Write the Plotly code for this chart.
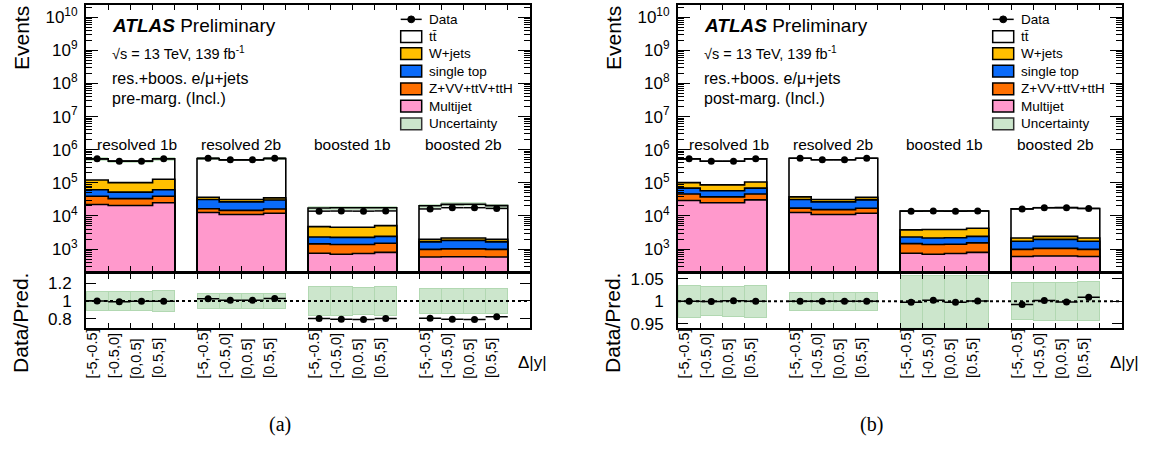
import plotly.graph_objects as go

FIG_W, FIG_H = 1153, 450

# ---------------- data ----------------
region_names = ["resolved 1b", "resolved 2b", "boosted 1b", "boosted 2b"]
bin_labels = ["[-5,-0.5]", "[-0.5,0]", "[0,0.5]", "[0.5,5]"]
region_label_pos = [2.3, 7.0, 12.0, 17.0]

data_events = [530000, 450000, 450000, 530000,
               553000, 497000, 497000, 553000,
               14000, 14100, 14000, 14200,
               16300, 17800, 17800, 16900]

# (a) pre-marginalisation
pre_ttbar = [408000, 352000, 350000, 404000, 502000, 462000, 462000, 502000,
             12700, 13200, 13150, 12650, 18300, 20300, 20400, 18600]
pre_wjets = [60000, 48900, 48900, 66000, 5300, 4600, 4600, 5000,
             2460, 2310, 2310, 2680, 320, 330, 330, 320]
pre_stop = [22500, 19000, 19000, 22500, 14700, 11900, 11900, 14000,
            880, 880, 880, 920, 670, 820, 820, 670]
pre_zvv = [16900, 12700, 12700, 14200, 3900, 3700, 3700, 4200,
           690, 680, 640, 700, 400, 430, 430, 400]
pre_multijet = [22300, 20800, 20800, 25000, 12700, 11100, 11100, 12100,
                750, 700, 740, 800, 580, 590, 590, 580]
pre_unc = [0.11, 0.11, 0.11, 0.12, 0.09, 0.09, 0.09, 0.09,
           0.16, 0.16, 0.155, 0.165, 0.14, 0.14, 0.14, 0.14]

# (b) post-marginalisation
post_ttbar = [428600, 363500, 362900, 423600, 515400, 465700, 465700, 516600,
              10220, 10180, 10130, 9910, 14250, 15350, 15410, 14580]
post_wjets = [32200, 29000, 29000, 37200, 6300, 4600, 4600, 5800,
              1490, 1720, 1700, 1860, 450, 450, 450, 450]
post_stop = [23100, 20100, 20100, 23100, 14000, 11200, 11200, 13500,
             850, 790, 800, 880, 740, 920, 920, 740]
post_zvv = [16900, 12600, 12600, 15400, 4600, 4400, 4400, 5000,
            720, 680, 660, 740, 380, 430, 430, 380]
post_multijet = [29200, 25000, 25000, 30700, 12700, 11100, 11100, 12100,
                 750, 700, 740, 800, 600, 620, 620, 600]
post_unc = [0.036, 0.032, 0.033, 0.036, 0.02, 0.02, 0.02, 0.02,
            0.058, 0.058, 0.058, 0.058, 0.041, 0.042, 0.042, 0.043]

legend_names = ["Data", "tt\u0304", "W+jets", "single top", "Z+VV+ttV+ttH", "Multijet", "Uncertainty"]

# ---------------- styling ----------------
C_TT = "#FFFFFF"
C_W = "#FFBF00"
C_ST = "#0A6BFA"
C_Z = "#FF7000"
C_MJ = "#FF99CC"
C_UNC = "#CCE6CC"
C_UNC_MAIN = "rgba(120,190,120,0.40)"
FONT = "Liberation Sans, Arial, sans-serif"

n_bins = 16
n_units = 20
bin_left = [5 * (i // 4) + (i % 4) for i in range(n_bins)]
bin_center = [b + 0.5 for b in bin_left]
edges = list(range(n_units + 1))


def px_x(x):
    return x / FIG_W


def px_y(y):
    return 1 - y / FIG_H


def step_y(vals):
    arr = [1e-3] * n_units
    for b, v in zip(bin_left, vals):
        arr[b] = v
    return arr + [arr[-1]]


panels = [
    dict(L=86, R=530, xa="x", ya="y", xr="x2", yr="y2",
         comps=[pre_multijet, pre_zvv, pre_stop, pre_wjets, pre_ttbar], unc=pre_unc,
         title="pre-marg. (Incl.)", caption="(a)", cap_x=280,
         rrange=[0.697, 1.308], rticks=[0.8, 1, 1.2], rtext=["0.8", "1", "1.2"]),
    dict(L=678, R=1122, xa="x3", ya="y3", xr="x4", yr="y4",
         comps=[post_multijet, post_zvv, post_stop, post_wjets, post_ttbar], unc=post_unc,
         title="post-marg. (Incl.)", caption="(b)", cap_x=871,
         rrange=[0.9413, 1.0609], rticks=[0.95, 1, 1.05], rtext=["0.95", "1", "1.05"]),
]
comp_colors = [C_MJ, C_Z, C_ST, C_W, C_TT]

fig = go.Figure()
annotations = []
shapes = []

MAIN_DOM = [px_y(273), px_y(1)]
RAT_DOM = [px_y(331), px_y(276)]

minor_vals = [k * 10 ** n for n in range(2, 11) for k in range(2, 10)]
major_vals = [10 ** n for n in range(3, 11)]
major_text = ["10<sup>%d</sup>" % n for n in range(3, 11)]

for pi, p in enumerate(panels):
    xa, ya, xr, yr = p["xa"], p["ya"], p["xr"], p["yr"]
    # stacked components
    for vals, col in zip(p["comps"], comp_colors):
        fig.add_trace(go.Bar(x=bin_center, y=vals, width=1, xaxis=xa, yaxis=ya,
                             marker=dict(color=col, line=dict(width=0)),
                             showlegend=False, hoverinfo="skip"))
    total = [sum(c[i] for c in p["comps"]) for i in range(n_bins)]
    # uncertainty band on main plot
    fig.add_trace(go.Bar(x=bin_center, y=[2 * u * t for u, t in zip(p["unc"], total)],
                         base=[t * (1 - u) for u, t in zip(p["unc"], total)],
                         width=1, xaxis=xa, yaxis=ya,
                         marker=dict(color=C_UNC_MAIN, line=dict(width=0)),
                         showlegend=False, hoverinfo="skip"))
    # step outlines of cumulative stack
    cum = [0] * n_bins
    for vals in p["comps"]:
        cum = [c + v for c, v in zip(cum, vals)]
        fig.add_trace(go.Scatter(x=edges, y=step_y(cum), mode="lines", xaxis=xa, yaxis=ya,
                                 line=dict(color="black", width=1.6, shape="hv"),
                                 showlegend=False, hoverinfo="skip"))
    # data
    fig.add_trace(go.Scatter(x=bin_center, y=data_events, mode="markers", xaxis=xa, yaxis=ya,
                             marker=dict(size=7, color="black"),
                             error_x=dict(type="data", array=[0.5] * n_bins, width=0,
                                          thickness=1.5, color="black"),
                             showlegend=False, hoverinfo="skip"))
    # ratio band
    fig.add_trace(go.Bar(x=bin_center, y=[2 * u for u in p["unc"]],
                         base=[1 - u for u in p["unc"]], width=1, xaxis=xr, yaxis=yr,
                         marker=dict(color=C_UNC, line=dict(width=1, color="#B2D8B2")),
                         showlegend=False, hoverinfo="skip"))
    fig.add_trace(go.Scatter(x=[0, n_units], y=[1, 1], mode="lines", xaxis=xr, yaxis=yr,
                             line=dict(color="black", width=2, dash="dot"),
                             showlegend=False, hoverinfo="skip"))
    ratio = [d / t for d, t in zip(data_events, total)]
    fig.add_trace(go.Scatter(x=bin_center, y=ratio, mode="markers", xaxis=xr, yaxis=yr,
                             marker=dict(size=7, color="black"),
                             error_x=dict(type="data", array=[0.5] * n_bins, width=0,
                                          thickness=1.5, color="black"),
                             showlegend=False, hoverinfo="skip"))

    dom = [px_x(p["L"]), px_x(p["R"])]
    sfx_m = "" if pi == 0 else "3"
    sfx_r = "2" if pi == 0 else "4"
    xcommon = dict(domain=dom, range=[0, n_units], showline=True, linewidth=2, linecolor="black",
                   mirror="ticks", ticks="inside", ticklen=5, tickwidth=1.2, tickcolor="black",
                   tickmode="array", tickvals=edges, showticklabels=False,
                   showgrid=False, zeroline=False, fixedrange=True)
    fig.update_layout(**{
        "xaxis" + sfx_m: dict(xcommon, anchor=ya),
        "yaxis" + sfx_m: dict(type="log", range=[2.342, 10.366], domain=MAIN_DOM, anchor=xa,
                              showline=True, linewidth=2, linecolor="black", mirror="ticks",
                              ticks="inside", ticklen=12, tickwidth=1.2, tickcolor="black",
                              tickmode="array", tickvals=major_vals, ticktext=major_text,
                              tickfont=dict(family=FONT, size=17, color="black"),
                              ticklabelstandoff=3,
                              minor=dict(tickmode="array", tickvals=minor_vals, ticks="inside",
                                         ticklen=6, tickwidth=1, tickcolor="black"),
                              showgrid=False, zeroline=False),
        "xaxis" + sfx_r: dict(xcommon, anchor=yr),
        "yaxis" + sfx_r: dict(range=p["rrange"], domain=RAT_DOM, anchor=xr,
                              showline=True, linewidth=2, linecolor="black", mirror="ticks",
                              ticks="inside", ticklen=10, tickwidth=1.2, tickcolor="black",
                              tickmode="array", tickvals=p["rticks"], ticktext=p["rtext"],
                              tickfont=dict(family=FONT, size=17, color="black"),
                              ticklabelstandoff=9,
                              showgrid=False, zeroline=False),
    })

    L = p["L"]
    # axis titles
    annotations.append(dict(text="Events", x=px_x(L - 65), y=px_y(0), xref="paper", yref="paper",
                            xanchor="center", yanchor="top", textangle=-90, showarrow=False,
                            font=dict(family=FONT, size=21, color="black")))
    annotations.append(dict(text="Data/Pred.", x=px_x(L - 65), y=px_y(273), xref="paper", yref="paper",
                            xanchor="center", yanchor="top", textangle=-90, showarrow=False,
                            font=dict(family=FONT, size=21, color="black")))
    annotations.append(dict(text="\u0394|y|", x=px_x(L + 446), y=px_y(367), xref="paper", yref="paper",
                            xanchor="center", yanchor="middle", showarrow=False,
                            font=dict(family=FONT, size=17, color="black")))
    annotations.append(dict(text=p["caption"], x=px_x(p["cap_x"]), y=px_y(430), xref="paper", yref="paper",
                            xanchor="center", yanchor="middle", showarrow=False,
                            font=dict(family="Liberation Serif, Times New Roman, serif", size=20, color="black")))
    # ATLAS labels
    annotations.append(dict(text="<b><i>ATLAS</i></b> Preliminary", x=px_x(L + 24), y=px_y(22),
                            xref="paper", yref="paper", xanchor="left", yanchor="middle", showarrow=False,
                            font=dict(family=FONT, size=19, color="black")))
    annotations.append(dict(text="\u221As = 13 TeV, 139 fb<sup>-1</sup>", x=px_x(L + 24), y=px_y(50),
                            xref="paper", yref="paper", xanchor="left", yanchor="middle", showarrow=False,
                            font=dict(family=FONT, size=14.5, color="black")))
    annotations.append(dict(text="res.+boos. e/\u03bc+jets", x=px_x(L + 24), y=px_y(76),
                            xref="paper", yref="paper", xanchor="left", yanchor="middle", showarrow=False,
                            font=dict(family=FONT, size=16, color="black")))
    annotations.append(dict(text=p["title"], x=px_x(L + 24), y=px_y(97),
                            xref="paper", yref="paper", xanchor="left", yanchor="middle", showarrow=False,
                            font=dict(family=FONT, size=16, color="black")))
    # region labels
    for name, xpos in zip(region_names, region_label_pos):
        annotations.append(dict(text=name, x=xpos, y=px_y(144), xref=xa, yref="paper",
                                xanchor="center", yanchor="middle", showarrow=False,
                                font=dict(family=FONT, size=15.5, color="black")))
    # bin labels
    for i in range(n_bins):
        annotations.append(dict(text=bin_labels[i % 4], x=bin_left[i] + 0.27, y=px_y(385),
                                xref=xr, yref="paper", xanchor="center", yanchor="bottom",
                                textangle=-90, showarrow=False,
                                font=dict(family=FONT, size=14.5, color="black")))
    # legend
    bx0, bx1 = L + 314.7, L + 335.7
    tx = L + 341
    row_y = [15.7, 33.3, 50.8, 68.7, 86.7, 104.5, 122.5]
    fills = [None, C_TT, C_W, C_ST, C_Z, C_MJ, C_UNC]
    for k, (name, cy, fc) in enumerate(zip(legend_names, row_y, fills)):
        if fc is None:
            shapes.append(dict(type="line", xref="paper", yref="paper", x0=px_x(bx0), x1=px_x(bx1),
                               y0=px_y(cy), y1=px_y(cy), line=dict(color="black", width=1.5)))
            cx = (bx0 + bx1) / 2
            shapes.append(dict(type="circle", xref="paper", yref="paper", x0=px_x(cx - 3.5), x1=px_x(cx + 3.5),
                               y0=px_y(cy + 3.5), y1=px_y(cy - 3.5), fillcolor="black",
                               line=dict(color="black", width=1)))
        else:
            shapes.append(dict(type="rect", xref="paper", yref="paper", x0=px_x(bx0), x1=px_x(bx1),
                               y0=px_y(cy + 6), y1=px_y(cy - 6), fillcolor=fc,
                               line=dict(color="#333333" if k == 6 else "black", width=1.5)))
        annotations.append(dict(text=name, x=px_x(tx), y=px_y(cy), xref="paper", yref="paper",
                                xanchor="left", yanchor="middle", showarrow=False,
                                font=dict(family=FONT, size=13.5, color="black")))

fig.update_layout(width=FIG_W, height=FIG_H, margin=dict(l=0, r=0, t=0, b=0),
                  paper_bgcolor="white", plot_bgcolor="white", barmode="stack",
                  showlegend=False, annotations=annotations, shapes=shapes,
                  font=dict(family=FONT, color="black"))

fig.write_html("out.html")
